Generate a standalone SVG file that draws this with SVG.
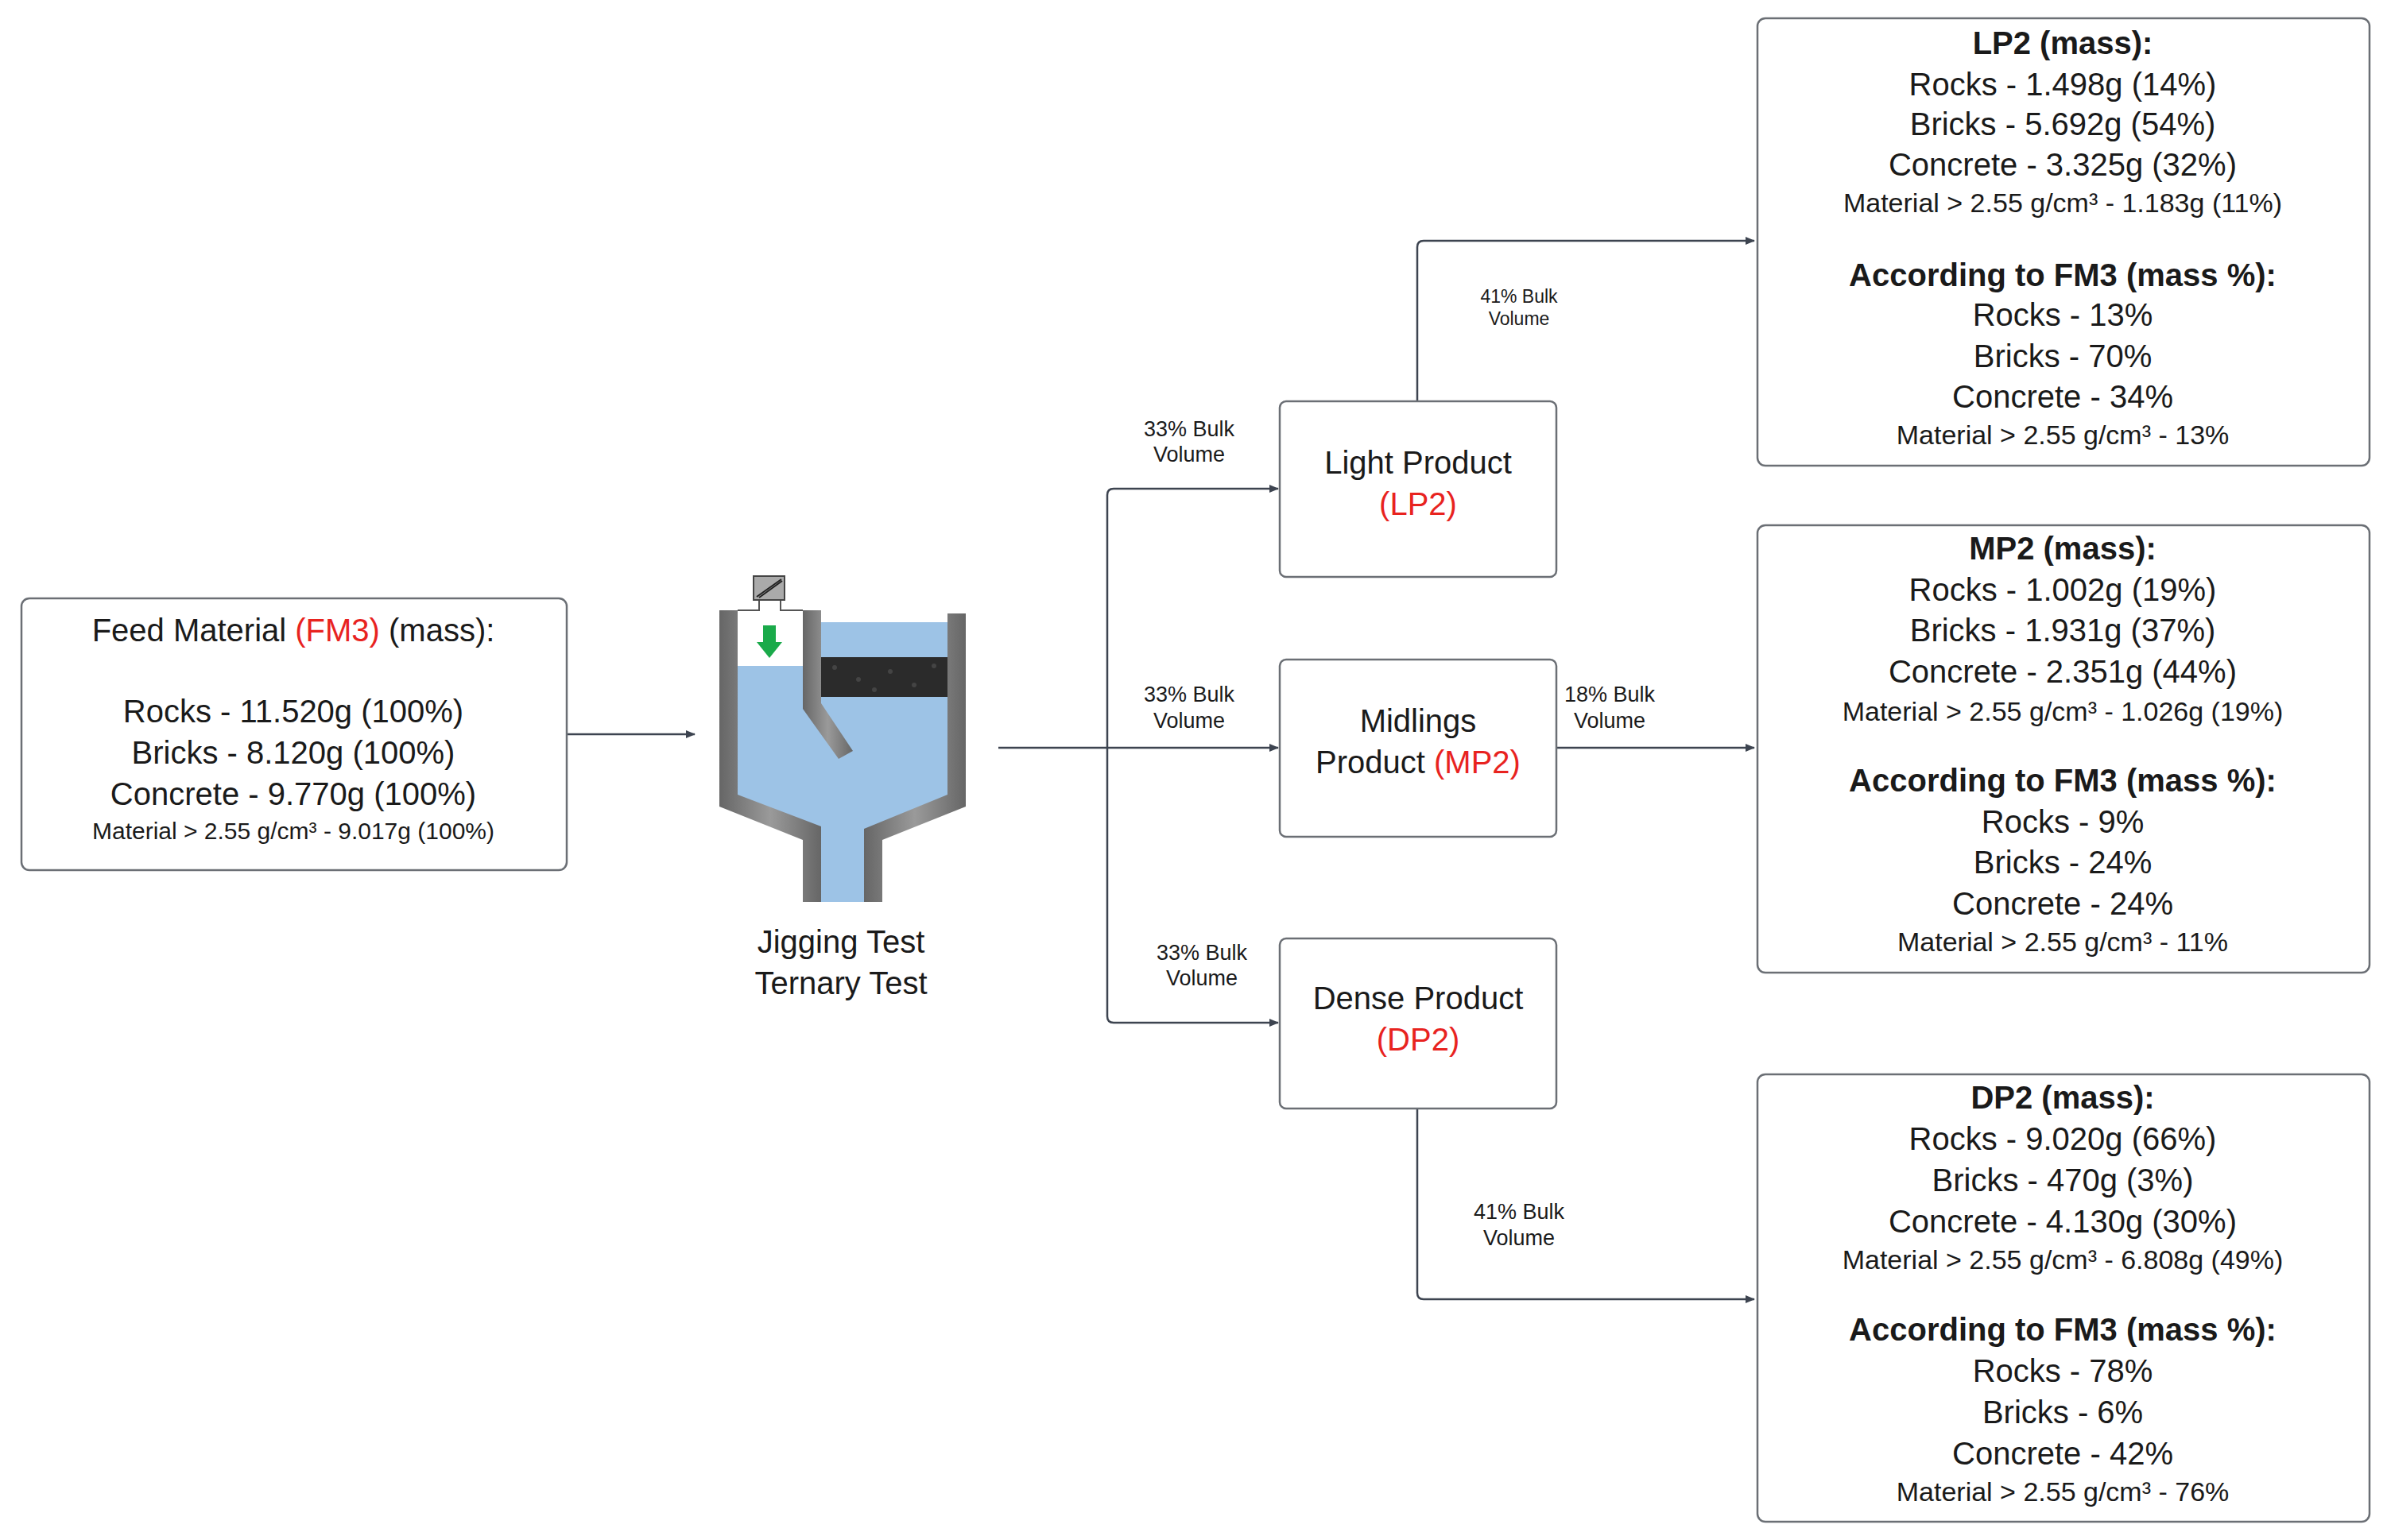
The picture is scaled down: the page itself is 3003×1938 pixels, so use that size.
<svg xmlns="http://www.w3.org/2000/svg" width="3003" height="1938" viewBox="0 0 3003 1938">
<defs>
<style>
.box{fill:#fff;stroke:#6b6f75;stroke-width:2.5}
text{font-family:"Liberation Sans",Arial,sans-serif;fill:#1a1a1a;text-anchor:middle;dominant-baseline:central}
.b{font-size:40px}.s{font-size:34px}.l{font-size:27px}.t{font-size:23px}.h{font-weight:bold}
.r{fill:#e8231f}
.ln{fill:none;stroke:#3d4450;stroke-width:2.5;marker-end:url(#ah)}
.wall{fill:url(#g)}
</style>
<marker id="ah" markerWidth="12" markerHeight="10" refX="11" refY="5" orient="auto" markerUnits="userSpaceOnUse" viewBox="0 0 12 10"><path d="M0,0L12,5L0,10z" fill="#3d4450"/></marker>
<linearGradient id="g" x1="0" x2="1"><stop offset="0" stop-color="#666"/><stop offset="0.5" stop-color="#9a9a9a"/><stop offset="1" stop-color="#666"/></linearGradient>
</defs>
<rect width="3003" height="1938" fill="#fff"/>
<g id="connectors">
<path class="ln" d="M713,924H874"/>
<path d="M1256,941H1393" fill="none" stroke="#3d4450" stroke-width="2.5"/>
<path class="ln" d="M1393,941V623Q1393,615 1401,615H1608"/>
<path class="ln" d="M1393,941H1608"/>
<path class="ln" d="M1393,941V1279Q1393,1287 1401,1287H1608"/>
<path class="ln" d="M1783,505V311Q1783,303 1791,303H2207"/>
<path class="ln" d="M1958,941H2207"/>
<path class="ln" d="M1783,1395V1627Q1783,1635 1791,1635H2207"/>
<text class="l" x="1496" y="540">33% Bulk</text><text class="l" x="1496" y="572">Volume</text>
<text class="l" x="1496" y="874">33% Bulk</text><text class="l" x="1496" y="907">Volume</text>
<text class="l" x="1512" y="1199">33% Bulk</text><text class="l" x="1512" y="1231">Volume</text>
<text class="t" x="1911" y="373">41% Bulk</text><text class="t" x="1911" y="401">Volume</text>
<text class="l" x="2025" y="874">18% Bulk</text><text class="l" x="2025" y="907">Volume</text>
<text class="l" x="1911" y="1525">41% Bulk</text><text class="l" x="1911" y="1558">Volume</text>
</g>
<g id="feed">
<rect class="box" x="27" y="753" width="686" height="342" rx="10"/>
<text class="b" x="369" y="793">Feed Material <tspan class="r">(FM3)</tspan> (mass):</text>
<text class="b" x="369" y="895">Rocks - 11.520g (100%)</text>
<text class="b" x="369" y="947">Bricks - 8.120g (100%)</text>
<text class="b" x="369" y="999">Concrete - 9.770g (100%)</text>
<text style="font-size:30px" x="369" y="1045">Material &gt; 2.55 g/cm³ - 9.017g (100%)</text>
</g>
<g id="jig">
<path d="M928,838H1010V783H1192V1013L1087,1050V1135H1033V1050L928,1013Z" fill="#9dc3e6"/>
<rect x="1033" y="827" width="159" height="50" fill="#2b2b2b"/>
<g fill="#555" opacity="0.6"><circle cx="1050" cy="840" r="3"/><circle cx="1080" cy="855" r="3"/><circle cx="1120" cy="845" r="3"/><circle cx="1150" cy="862" r="3"/><circle cx="1175" cy="838" r="3"/><circle cx="1100" cy="868" r="3"/></g>
<path class="wall" d="M905,768H928V1000L1033,1040V1135H1010V1057L905,1015Z"/>
<path class="wall" d="M1192,772H1215V1015L1110,1057V1135H1087V1043L1192,1000Z"/>
<path class="wall" d="M1010,768H1033V885L1073,945L1055,955L1010,892Z"/>
<path d="M928,768H955V755M982,755V768H1010" fill="none" stroke="#555" stroke-width="2"/>
<rect x="948" y="725" width="39" height="30" fill="#aaa" stroke="#444" stroke-width="2"/>
<path d="M952,751L983,729M955,752L984,731" stroke="#222" stroke-width="2"/>
<path d="M960,787H976V808H984L968,828L952,808H960Z" fill="#1aaa4a"/>
<text class="b" x="1058" y="1185">Jigging Test</text>
<text class="b" x="1058" y="1237">Ternary Test</text>
</g>
<g id="lp">
<rect class="box" x="1610" y="505" width="348" height="221" rx="8"/>
<text class="b" x="1784" y="582">Light Product</text><text class="b r" x="1784" y="634">(LP2)</text>
</g>
<g id="mp">
<rect class="box" x="1610" y="830" width="348" height="223" rx="8"/>
<text class="b" x="1784" y="907">Midlings</text><text class="b" x="1784" y="959">Product <tspan class="r">(MP2)</tspan></text>
</g>
<g id="dp">
<rect class="box" x="1610" y="1181" width="348" height="214" rx="8"/>
<text class="b" x="1784" y="1256">Dense Product</text><text class="b r" x="1784" y="1308">(DP2)</text>
</g>
<g id="lp2">
<rect class="box" x="2211" y="23" width="770" height="563" rx="10"/>
<text class="b h" x="2595" y="54">LP2 (mass):</text>
<text class="b" x="2595" y="106">Rocks - 1.498g (14%)</text>
<text class="b" x="2595" y="156">Bricks - 5.692g (54%)</text>
<text class="b" x="2595" y="207">Concrete - 3.325g (32%)</text>
<text class="s" x="2595" y="255">Material &gt; 2.55 g/cm³ - 1.183g (11%)</text>
<text class="b h" x="2595" y="346">According to FM3 (mass %):</text>
<text class="b" x="2595" y="396">Rocks - 13%</text>
<text class="b" x="2595" y="448">Bricks - 70%</text>
<text class="b" x="2595" y="499">Concrete - 34%</text>
<text class="s" x="2595" y="547">Material &gt; 2.55 g/cm³ - 13%</text>
</g>
<g id="mp2">
<rect class="box" x="2211" y="661" width="770" height="563" rx="10"/>
<text class="b h" x="2595" y="690">MP2 (mass):</text>
<text class="b" x="2595" y="742">Rocks - 1.002g (19%)</text>
<text class="b" x="2595" y="793">Bricks - 1.931g (37%)</text>
<text class="b" x="2595" y="845">Concrete - 2.351g (44%)</text>
<text class="s" x="2595" y="895">Material &gt; 2.55 g/cm³ - 1.026g (19%)</text>
<text class="b h" x="2595" y="982">According to FM3 (mass %):</text>
<text class="b" x="2595" y="1034">Rocks - 9%</text>
<text class="b" x="2595" y="1085">Bricks - 24%</text>
<text class="b" x="2595" y="1137">Concrete - 24%</text>
<text class="s" x="2595" y="1185">Material &gt; 2.55 g/cm³ - 11%</text>
</g>
<g id="dp2">
<rect class="box" x="2211" y="1352" width="770" height="563" rx="10"/>
<text class="b h" x="2595" y="1381">DP2 (mass):</text>
<text class="b" x="2595" y="1433">Rocks - 9.020g (66%)</text>
<text class="b" x="2595" y="1485">Bricks - 470g (3%)</text>
<text class="b" x="2595" y="1537">Concrete - 4.130g (30%)</text>
<text class="s" x="2595" y="1585">Material &gt; 2.55 g/cm³ - 6.808g (49%)</text>
<text class="b h" x="2595" y="1673">According to FM3 (mass %):</text>
<text class="b" x="2595" y="1725">Rocks - 78%</text>
<text class="b" x="2595" y="1777">Bricks - 6%</text>
<text class="b" x="2595" y="1829">Concrete - 42%</text>
<text class="s" x="2595" y="1877">Material &gt; 2.55 g/cm³ - 76%</text>
</g>
</svg>
